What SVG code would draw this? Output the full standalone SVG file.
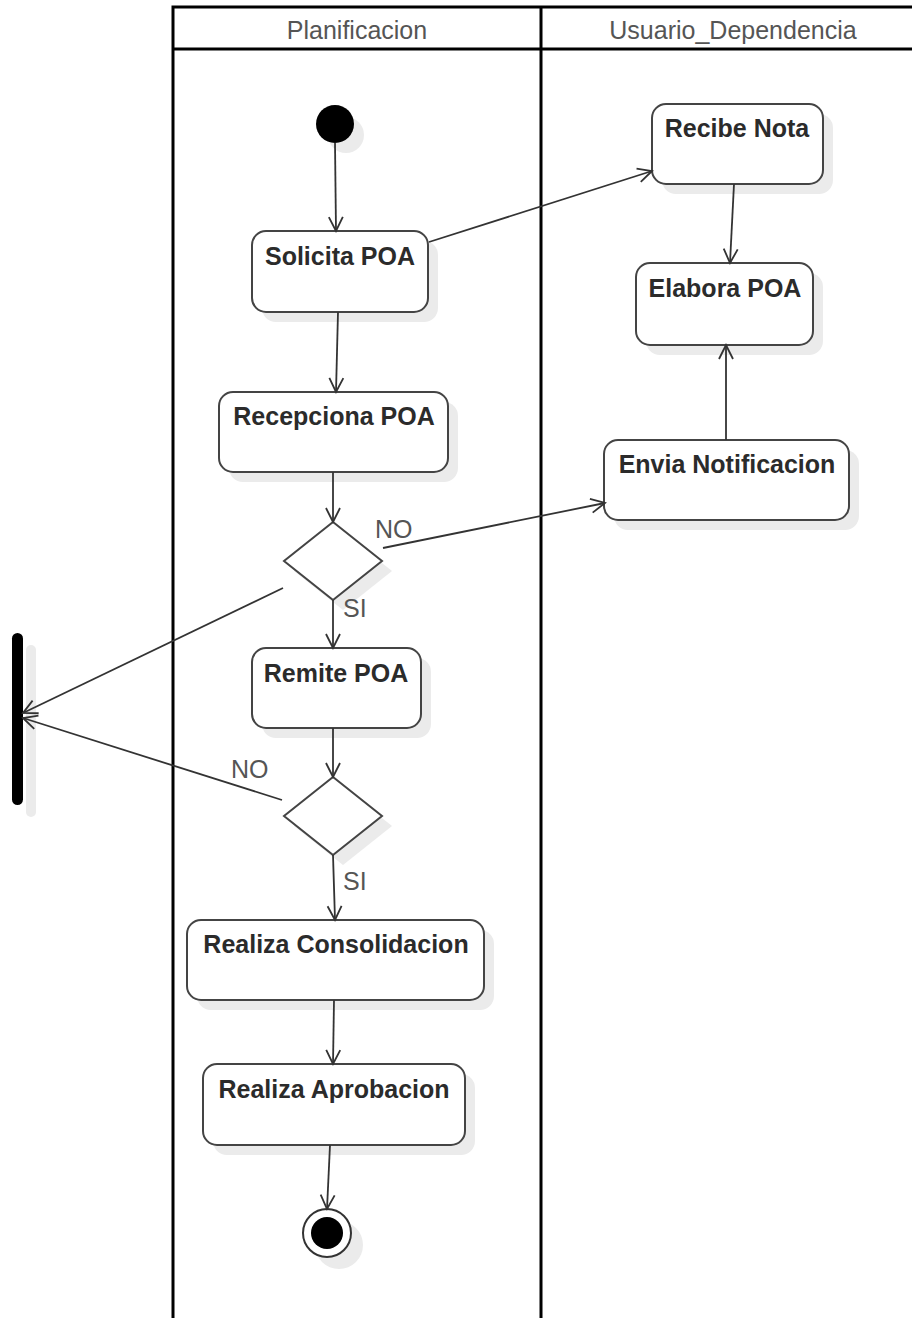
<svg xmlns="http://www.w3.org/2000/svg" width="912" height="1318" viewBox="0 0 912 1318">
  <style>
    .lane { fill: none; stroke: #000; stroke-width: 3; }
    .lane-title { font-family: "Liberation Sans", Arial, sans-serif; font-size: 25px; fill: #555; text-anchor: middle; }
    .act { fill: #fff; stroke: #444; stroke-width: 2; }
    .shadow { fill: #ebebeb; }
    .act-label { font-family: "Liberation Sans", Arial, sans-serif; font-size: 25px; font-weight: bold; fill: #2b2b2b; text-anchor: middle; }
    .guard { font-family: "Liberation Sans", Arial, sans-serif; font-size: 25px; fill: #555; }
    .flow { fill: none; stroke: #333; stroke-width: 1.8; marker-end: url(#open-arrow); }
  </style>
  <defs>
    <marker id="open-arrow" markerUnits="userSpaceOnUse" markerWidth="18" markerHeight="18" viewBox="0 0 18 18" refX="16" refY="9" orient="auto">
      <path d="M2,2 L16,9 L2,16" fill="none" stroke="#333" stroke-width="1.8"/>
    </marker>
  </defs>

  <rect width="912" height="1318" fill="#fff"/>

  <!-- swimlanes -->
  <g id="lanes">
    <path class="lane" d="M173,1318 V7 H912 M173,49 H912 M541,7 V1318"/>
    <text class="lane-title" x="357" y="39">Planificacion</text>
    <text class="lane-title" x="733" y="39">Usuario_Dependencia</text>
  </g>

  <!-- initial node -->
  <g id="start">
    <circle class="shadow" cx="346" cy="135" r="18"/>
    <circle cx="335" cy="124" r="19" fill="#000"/>
  </g>

  <g id="solicita-poa">
    <rect class="shadow" x="262" y="241" width="176" height="81" rx="14"/>
    <rect class="act" x="252" y="231" width="176" height="81" rx="14"/>
    <text class="act-label" x="340" y="265">Solicita POA</text>
  </g>

  <g id="recibe-nota">
    <rect class="shadow" x="662" y="114" width="171" height="80" rx="14"/>
    <rect class="act" x="652" y="104" width="171" height="80" rx="14"/>
    <text class="act-label" x="737" y="137">Recibe Nota</text>
  </g>

  <g id="elabora-poa">
    <rect class="shadow" x="646" y="273" width="177" height="82" rx="14"/>
    <rect class="act" x="636" y="263" width="177" height="82" rx="14"/>
    <text class="act-label" x="725" y="297">Elabora POA</text>
  </g>

  <g id="recepciona-poa">
    <rect class="shadow" x="229" y="402" width="229" height="80" rx="14"/>
    <rect class="act" x="219" y="392" width="229" height="80" rx="14"/>
    <text class="act-label" x="334" y="425">Recepciona POA</text>
  </g>

  <g id="envia-notificacion">
    <rect class="shadow" x="614" y="450" width="245" height="80" rx="14"/>
    <rect class="act" x="604" y="440" width="245" height="80" rx="14"/>
    <text class="act-label" x="727" y="473">Envia Notificacion</text>
  </g>

  <g id="decision-1">
    <polygon class="shadow" points="343,532 392,571 343,610 294,571"/>
    <polygon class="act" points="333,522 382,561 333,600 284,561"/>
  </g>

  <g id="remite-poa">
    <rect class="shadow" x="262" y="658" width="169" height="80" rx="14"/>
    <rect class="act" x="252" y="648" width="169" height="80" rx="14"/>
    <text class="act-label" x="336" y="682">Remite POA</text>
  </g>

  <g id="decision-2">
    <polygon class="shadow" points="343,787 392,826 343,865 294,826"/>
    <polygon class="act" points="333,777 382,816 333,855 284,816"/>
  </g>

  <g id="join-bar">
    <rect class="shadow" x="26" y="645" width="10" height="172" rx="5"/>
    <rect x="12" y="633" width="11" height="172" rx="5.5" fill="#000"/>
  </g>

  <g id="realiza-consolidacion">
    <rect class="shadow" x="197" y="930" width="297" height="80" rx="14"/>
    <rect class="act" x="187" y="920" width="297" height="80" rx="14"/>
    <text class="act-label" x="336" y="953">Realiza Consolidacion</text>
  </g>

  <g id="realiza-aprobacion">
    <rect class="shadow" x="213" y="1074" width="262" height="81" rx="14"/>
    <rect class="act" x="203" y="1064" width="262" height="81" rx="14"/>
    <text class="act-label" x="334" y="1098">Realiza Aprobacion</text>
  </g>

  <!-- final node -->
  <g id="end">
    <circle class="shadow" cx="339" cy="1245" r="24"/>
    <circle cx="327" cy="1233" r="24" fill="#fff" stroke="#333" stroke-width="2"/>
    <circle cx="327" cy="1233" r="16" fill="#000"/>
  </g>

  <!-- control flows, drawn above the node shadows -->
  <g id="connectors">
    <path class="flow" d="M335,143 L336,231"/>
    <path class="flow" d="M429,242 L652,171"/>
    <path class="flow" d="M734,184 L730,263"/>
    <path class="flow" d="M338,312 L336,392"/>
    <path class="flow" d="M333,472 L333,522"/>
    <path class="flow" d="M383,548 L605,503"/>
    <path class="flow" d="M726,440 L726,345"/>
    <path class="flow" d="M333,600 L333,648"/>
    <path class="flow" d="M283,588 L23,713"/>
    <path class="flow" d="M333,728 L333,777"/>
    <path class="flow" d="M282,800 L23,718"/>
    <path class="flow" d="M333,855 L335,920"/>
    <path class="flow" d="M334,1000 L333,1064"/>
    <path class="flow" d="M330,1145 L327,1209"/>
    <text class="guard" x="375" y="538">NO</text>
    <text class="guard" x="343" y="617">SI</text>
    <text class="guard" x="231" y="778">NO</text>
    <text class="guard" x="343" y="890">SI</text>
  </g>
</svg>
